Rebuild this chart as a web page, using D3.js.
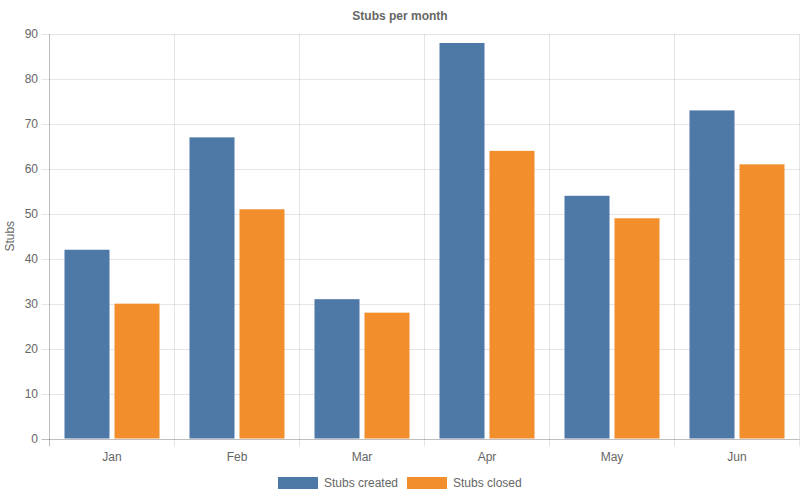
<!DOCTYPE html>
<html>
<head>
<meta charset="utf-8">
<script src="https://cdn.jsdelivr.net/npm/d3@7"></script>
<style>
  body { margin: 0; background: #fff; }
  svg { display: block; font-family: "Liberation Sans", Arial, Helvetica, sans-serif; }
</style>
</head>
<body>
<svg id="chart" width="800" height="500"></svg>
<script>
// Datos del gráfico
const months = ['Jan', 'Feb', 'Mar', 'Apr', 'May', 'Jun'];
const seriesNames = ['Stubs created', 'Stubs closed'];
const stubsCreated = [42, 67, 31, 88, 54, 73];
const stubsClosed = [30, 51, 28, 64, 49, 61];
const yTicks = [0, 10, 20, 30, 40, 50, 60, 70, 80, 90];
const seriesColors = ['#4e79a7', '#f28e2b'];

const svg = d3.select('#chart');
const plotLeft = 49.5, plotRight = 799.5, plotTop = 34, plotBottom = 438.5;

const x0 = d3.scaleBand().domain(months).range([plotLeft, plotRight]);
const x1 = d3.scaleBand().domain(seriesNames)
    .range([x0.bandwidth() * 0.1, x0.bandwidth() * 0.9])
    .paddingInner(0.1).paddingOuter(0.05);
const y = d3.scaleLinear().domain([0, 90]).range([plotBottom, plotTop]);

// Cuadrícula horizontal
svg.append('g')
    .selectAll('line')
    .data(yTicks)
    .enter().append('line')
    .attr('x1', plotLeft - 8).attr('x2', plotRight)
    .attr('y1', d => Math.round(y(d)) + 0.5).attr('y2', d => Math.round(y(d)) + 0.5)
    .attr('stroke', d => d === 0 ? 'rgba(0,0,0,0.25)' : 'rgba(0,0,0,0.1)');

// Cuadrícula vertical (bordes de categoría)
const vLines = months.map(m => x0(m)).concat([plotRight]);
svg.append('g')
    .selectAll('line')
    .data(vLines)
    .enter().append('line')
    .attr('x1', d => Math.round(d - 0.5) + 0.5).attr('x2', d => Math.round(d - 0.5) + 0.5)
    .attr('y1', plotTop).attr('y2', plotBottom + 8)
    .attr('stroke', (d, i) => i === 0 ? 'rgba(0,0,0,0.25)' : 'rgba(0,0,0,0.1)');

// Etiquetas del eje Y
svg.append('g')
    .selectAll('text')
    .data(yTicks)
    .enter().append('text')
    .attr('x', 38).attr('y', d => y(d))
    .attr('dy', '0.35em')
    .attr('text-anchor', 'end')
    .attr('font-size', 12).attr('fill', '#666')
    .text(d => d);

// Etiquetas del eje X
svg.append('g')
    .selectAll('text')
    .data(months)
    .enter().append('text')
    .attr('x', d => x0(d) + x0.bandwidth() / 2)
    .attr('y', 461)
    .attr('text-anchor', 'middle')
    .attr('font-size', 12).attr('fill', '#666')
    .text(d => d);

// Barras
const rows = months.map((m, i) => ({ month: m, values: [stubsCreated[i], stubsClosed[i]] }));
const groups = svg.append('g')
    .selectAll('g')
    .data(rows)
    .enter().append('g')
    .attr('transform', d => `translate(${x0(d.month)},0)`);

groups.selectAll('rect')
    .data(d => d.values.map((v, j) => ({ name: seriesNames[j], value: v, color: seriesColors[j] })))
    .enter().append('rect')
    .attr('x', d => x1(d.name))
    .attr('width', x1.bandwidth())
    .attr('y', d => y(d.value))
    .attr('height', d => plotBottom - y(d.value))
    .attr('fill', d => d.color);

// Título
svg.append('text')
    .attr('x', 400).attr('y', 20)
    .attr('text-anchor', 'middle')
    .attr('font-size', 12).attr('font-weight', 'bold').attr('fill', '#666')
    .text('Stubs per month');

// Título del eje Y
svg.append('text')
    .attr('transform', `translate(14,${(plotTop + plotBottom) / 2}) rotate(-90)`)
    .attr('text-anchor', 'middle')
    .attr('font-size', 12).attr('fill', '#666')
    .text('Stubs');

// Leyenda
const legendX = [278, 407];
const legend = svg.append('g')
    .selectAll('g')
    .data(seriesNames)
    .enter().append('g')
    .attr('transform', (d, i) => `translate(${legendX[i]},477)`);

legend.append('rect')
    .attr('width', 40).attr('height', 12)
    .attr('fill', (d, i) => seriesColors[i]);

legend.append('text')
    .attr('x', 46).attr('y', 6)
    .attr('dy', '0.35em')
    .attr('font-size', 12).attr('fill', '#666')
    .text(d => d);
</script>
</body>
</html>
